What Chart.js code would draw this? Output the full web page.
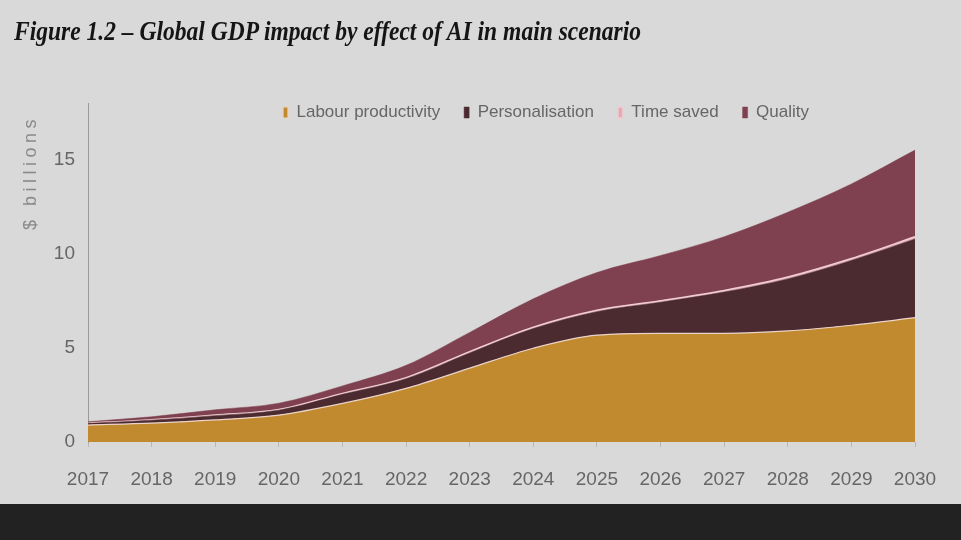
<!DOCTYPE html>
<html>
<head>
<meta charset="utf-8">
<script src="https://cdn.jsdelivr.net/npm/chart.js@4.4.1/dist/chart.umd.min.js"></script>
<style>
  html, body { margin: 0; padding: 0; background: #d9d9d9; }
  #wrap { position: relative; width: 961px; height: 540px; overflow: hidden; background: #d9d9d9; }
  #title {
    position: absolute; left: 14px; top: 15px;
    font-family: 'Liberation Serif', 'DejaVu Serif', serif;
    font-weight: bold; font-style: italic; font-size: 28px; color: #151515;
    white-space: nowrap; transform-origin: left top; transform: scaleX(0.84);
  }
  #chartBox { position: absolute; left: 0; top: 0; width: 961px; height: 504px; }
  #footer { position: absolute; left: 0; top: 504px; width: 961px; height: 36px; background: #222222; }
</style>
</head>
<body>
<div id="wrap">
  <div id="chartBox"><canvas id="gdpChart"></canvas></div>
  <div id="title">Figure 1.2 – Global GDP impact by effect of AI in main scenario</div>
  <div id="footer"></div>
</div>
<script>
// values in $ trillions (stacked layers)
const years = ['2017', '2018', '2019', '2020', '2021', '2022', '2023', '2024', '2025', '2026', '2027', '2028', '2029', '2030'];
const labourProductivity = [0.9, 1.0, 1.17, 1.43, 2.05, 2.85, 3.92, 4.98, 5.67, 5.77, 5.77, 5.9, 6.2, 6.6];
const personalisation = [0.09, 0.16, 0.23, 0.26, 0.48, 0.51, 0.81, 1.04, 1.25, 1.65, 2.19, 2.76, 3.44, 4.18];
const timeSaved = [0.01, 0.02, 0.03, 0.04, 0.05, 0.06, 0.07, 0.08, 0.08, 0.08, 0.09, 0.1, 0.1, 0.12];
const quality = [0.08, 0.16, 0.28, 0.33, 0.4, 0.65, 1.02, 1.5, 2.0, 2.4, 2.85, 3.44, 3.96, 4.6];
const yTicks = [0, 5, 10, 15];
const yTitle = '$ billions';

const sans = "'Liberation Sans', Arial, sans-serif";

// legend floats inside the plot, right of centre; its layout box is kept tiny
const legendShift = {
  id: 'legendShift',
  afterLayout(chart) {
    const lg = chart.legend;
    if (!lg) return;
    const dx = 546 - (lg.left + lg.right) / 2;
    lg.left += dx; lg.right += dx;
    lg.top = 80;
    lg.height = 50;
    lg.bottom = lg.top + lg.height;
  },
};

// spaced-out rotated axis title, drawn by hand
const yTitlePlugin = {
  id: 'yTitlePlugin',
  afterDraw(chart) {
    const c = chart.ctx;
    const top = chart.chartArea.top;
    c.save();
    c.translate(31, top + 12);
    c.rotate(-Math.PI / 2);
    c.font = '18px ' + sans;
    c.letterSpacing = '4.5px';
    c.fillStyle = '#8a8a8a';
    c.textAlign = 'right';
    c.textBaseline = 'middle';
    c.fillText(yTitle, 0, 0);
    c.restore();
  },
};

function layer(label, data, fill, border, bw, fillTo) {
  return {
    label: label,
    data: data,
    backgroundColor: fill,
    borderColor: border,
    borderWidth: bw,
    fill: fillTo,
    pointRadius: 0,
    pointHoverRadius: 0,
    cubicInterpolationMode: 'monotone',
  };
}

const ctx = document.getElementById('gdpChart').getContext('2d');
new Chart(ctx, {
  type: 'line',
  data: {
    labels: years,
    datasets: [
      layer('Labour productivity', labourProductivity, '#c28a2e', '#ead3c8', 1.2, 'origin'),
      layer('Personalisation', personalisation, '#4b2a30', '#4b2a30', 0.5, '-1'),
      layer('Time saved', timeSaved, '#e4aab3', '#efcdd1', 1.5, '-1'),
      layer('Quality', quality, '#7f4050', '#7f4050', 0.5, '-1'),
    ],
  },
  options: {
    responsive: true,
    maintainAspectRatio: false,
    animation: false,
    layout: { padding: { top: 102, right: 46, left: 0, bottom: 0 } },
    scales: {
      x: {
        offset: false,
        grid: { display: true, drawOnChartArea: false, drawTicks: true, tickLength: 5, color: '#b8b8b8' },
        border: { display: false },
        ticks: { color: '#666', padding: 21, maxRotation: 0, font: { family: sans, size: 19 } },
        afterFit: (s) => { s.height = 62; },
      },
      y: {
        stacked: true,
        min: 0,
        max: 18,
        grid: { display: false, drawTicks: false },
        border: { display: true, color: '#9a9a9a', width: 1 },
        ticks: { color: '#666', padding: 13, stepSize: 5, font: { family: sans, size: 19 } },
        afterBuildTicks: (s) => { s.ticks = yTicks.map((v) => ({ value: v })); },
        afterFit: (s) => { s.width = 88; },
      },
    },
    plugins: {
      legend: {
        position: 'top',
        align: 'center',
        maxHeight: 1,
        labels: {
          color: '#666',
          boxWidth: 5,
          boxHeight: 11,
          padding: 24,
          font: { family: sans, size: 17 },
        },
      },
      tooltip: { enabled: false },
    },
  },
  plugins: [legendShift, yTitlePlugin],
});
</script>
</body>
</html>
